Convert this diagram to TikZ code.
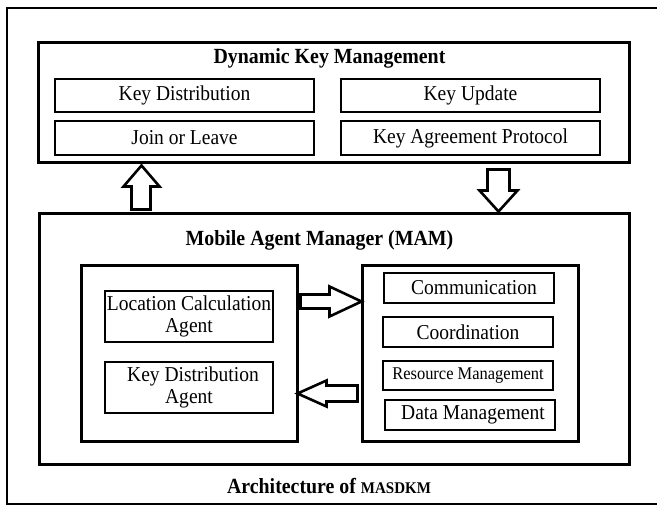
\documentclass[tikz,border=0pt]{standalone}
\usepackage{fontspec}
\setmainfont{Liberation Serif}[FakeStretch=0.92]
\usetikzlibrary{positioning, calc}

\begin{document}
\begin{tikzpicture}[x=1pt, y=-1pt,
    box/.style={draw, rectangle, line width=1.1pt, inner sep=0pt, align=center, font=\fontsize{21.2}{21.5}\selectfont},
    frame/.style={draw, rectangle, line width=3pt, inner sep=0pt},
    title/.style={font=\bfseries\fontsize{21.6}{23}\selectfont},
    blockarrow/.style={draw, line width=2.6pt, line join=miter, fill=white}]
      \useasboundingbox (0,0) rectangle (657,506);

      % Outer frame (its right side runs off the page)
      \draw[line width=2.4pt] (700,8) -- (7,8) -- (7,504) -- (700,504);

      % Dynamic key management
      \node[frame, minimum width=591pt, minimum height=120pt] (dkm) at (333.5,102) {};
      \node[title] (dkmtitle) at (329.5,58) {Dynamic Key Management};
      \node[box, minimum width=259pt, minimum height=33pt] (keydist) at (184.5,95.5) {Key Distribution};
      \node[box, minimum width=259pt, minimum height=33pt] (keyupd) at (470.5,95.5) {Key Update};
      \node[box, minimum width=259pt, minimum height=34pt] (joinleave) at (184.5,138) {Join or Leave};
      \node[box, minimum width=259pt, minimum height=34pt] (keyagree) at (470.5,138) {Key Agreement Protocol};

      % Mobile agent manager
      \node[frame, minimum width=590pt, minimum height=251pt] (mam) at (334,338.5) {};
      \node[title] (mamtitle) at (319.5,240) {Mobile Agent Manager (MAM)};
      \node[frame, minimum width=216pt, minimum height=176pt] (agents) at (189,353) {};
      \node[box, minimum width=168pt, minimum height=51pt] (lca) at (189,316.5) {Location Calculation\\Agent};
      \node[box, minimum width=168pt, minimum height=51pt] (kda) at (189,387.5) {\hspace{8pt}Key Distribution\\Agent};
      \node[frame, minimum width=216pt, minimum height=176pt] (services) at (470,353) {};
      \node[box, minimum width=170pt, minimum height=30pt] (comm) at (469,288) {\hspace{10pt}Communication};
      \node[box, minimum width=170pt, minimum height=30pt] (coord) at (468,332) {Coordination};
      \node[box, minimum width=170pt, minimum height=29pt, font=\fontsize{17.9}{19}\selectfont] (resmgmt) at (468,375.5) {Resource Management};
      \node[box, minimum width=170pt, minimum height=30pt] (datamgmt) at (470,415) {\hspace{6pt}Data Management};

      % Caption
      \node[title] (caption) at (329,486) {Architecture of {\fontsize{16.3}{16}\selectfont MASDKM}};

      % Block arrows
      \coordinate (upfoot) at ($(mam.north west)+(94,-2)$);
      \coordinate (downtop) at ($(dkm.south west)+(451,6)$);
      \coordinate (rightfoot) at ($(agents.north east)+(2,31)$);
      \coordinate (leftfoot) at ($(services.north west)+(-3,122)$);
      \draw[blockarrow] (upfoot) -- ++(0,-23) -- ++(-8,0) -- ++(18,-21) -- ++(18,21) -- ++(-9,0) -- ++(0,23) -- cycle;
      \draw[blockarrow] (downtop) -- ++(0,21) -- ++(-8,0) -- ++(19,21) -- ++(19,-21) -- ++(-8,0) -- ++(0,-21) -- cycle;
      \draw[blockarrow] (rightfoot) -- ++(29,0) -- ++(0,-8) -- ++(32,15) -- ++(-32,15) -- ++(0,-8) -- ++(-29,0) -- cycle;
      \draw[blockarrow] (leftfoot) -- ++(-31,0) -- ++(0,-5) -- ++(-29,13) -- ++(29,13) -- ++(0,-5) -- ++(31,0) -- cycle;
\end{tikzpicture}
\end{document}
